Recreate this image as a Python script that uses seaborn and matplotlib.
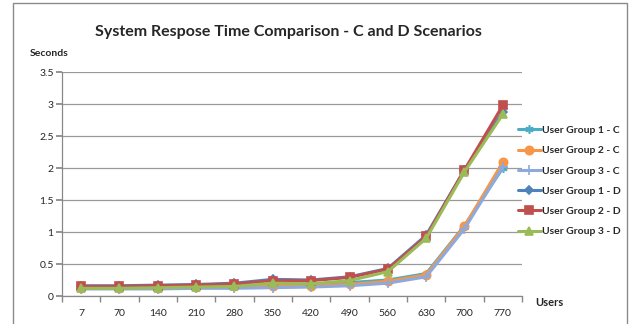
import numpy as np
import pandas as pd
import matplotlib
matplotlib.use("Agg")
import matplotlib.pyplot as plt
from matplotlib.patches import Rectangle
import seaborn as sns

users = ["7", "70", "140", "210", "280", "350", "420", "490", "560", "630", "700", "770"]
group1_c = [0.13, 0.13, 0.14, 0.15, 0.16, 0.18, 0.19, 0.21, 0.25, 0.35, 1.10, 2.00]
group2_c = [0.12, 0.12, 0.13, 0.14, 0.15, 0.15, 0.16, 0.18, 0.23, 0.33, 1.09, 2.09]
group3_c = [0.11, 0.11, 0.11, 0.12, 0.12, 0.13, 0.14, 0.16, 0.20, 0.30, 1.05, 2.02]
group1_d = [0.16, 0.16, 0.17, 0.18, 0.20, 0.26, 0.25, 0.30, 0.43, 0.95, 1.97, 2.88]
group2_d = [0.15, 0.15, 0.16, 0.17, 0.19, 0.24, 0.24, 0.29, 0.42, 0.93, 1.97, 2.98]
group3_d = [0.12, 0.12, 0.13, 0.14, 0.15, 0.20, 0.19, 0.24, 0.38, 0.90, 1.94, 2.84]

series_names = ["User Group 1 - C", "User Group 2 - C", "User Group 3 - C",
                "User Group 1 - D", "User Group 2 - D", "User Group 3 - D"]
series_vals = [group1_c, group2_c, group3_c, group1_d, group2_d, group3_d]
colors = ["#4BACC6", "#F79646", "#8EA9DB", "#4F81BD", "#C0504D", "#9BBB59"]
markers = [(6, 2, 0), "o", "+", "D", "s", "^"]
msizes = [6, 6, 7, 4.5, 6, 6]

rows = []
for name, vals in zip(series_names, series_vals):
    for i, v in enumerate(vals):
        rows.append({"pos": i, "Seconds": v, "series": name})
df = pd.DataFrame(rows)

sns.set_theme(style="white")
plt.rcParams["font.family"] = ["Lato", "DejaVu Sans"]

fig = plt.figure(figsize=(6.32, 3.24), dpi=100)
ax = fig.add_axes([62 / 632, 1 - 296 / 324, 460 / 632, (296 - 72) / 324])

for name, col, mk, ms in zip(series_names, colors, markers, msizes):
    sub = df[df["series"] == name]
    sns.lineplot(data=sub, x="pos", y="Seconds", ax=ax, color=col, marker=mk,
                 markersize=ms, markeredgecolor=col, markeredgewidth=1.2,
                 linewidth=2.2, label=name, sort=False)

ax.set_xlim(-0.5, len(users) - 0.5)
ax.set_ylim(0, 3.5)
ax.set_yticks(np.arange(0, 3.51, 0.5))
ax.set_yticklabels(["0", "0.5", "1", "1.5", "2", "2.5", "3", "3.5"], fontsize=7.5)
ax.set_xticks(range(len(users)))
ax.set_xticklabels(users, fontsize=7.5)
ax.set_xticks(np.arange(-0.5, len(users), 1), minor=True)
ax.tick_params(axis="x", which="major", length=0, pad=9)
ax.tick_params(axis="x", which="minor", length=4, color="#888888", direction="out", bottom=True)
ax.tick_params(axis="y", length=4, color="#888888", direction="out", left=True, pad=2)
ax.grid(axis="y", color="#9a9a9a", linewidth=0.9)
ax.set_axisbelow(True)
for s in ["top", "right"]:
    ax.spines[s].set_visible(False)
for s in ["left", "bottom"]:
    ax.spines[s].set_color("#888888")
    ax.spines[s].set_linewidth(0.9)
ax.set_xlabel("")
ax.set_ylabel("")

handles, labels = ax.get_legend_handles_labels()
ax.get_legend().remove()
fig.legend(handles, labels, loc="center left", bbox_to_anchor=(518 / 632, 1 - 181 / 324),
           frameon=False, handlelength=2.2, handletextpad=0.1, labelspacing=1.05,
           prop={"weight": "bold", "size": 7.5}, borderaxespad=0, borderpad=0)

fig.text(288 / 632, 1 - 32 / 324, "System Respose Time Comparison - C and D Scenarios",
         ha="center", va="center", fontsize=11.5, fontweight="bold")
fig.text(49 / 632, 1 - 53 / 324, "Seconds", ha="center", va="center", fontsize=7.5, fontweight="bold")
fig.text(549 / 632, 1 - 303 / 324, "Users", ha="center", va="center", fontsize=8, fontweight="bold")

fig.patches.append(Rectangle((13 / 632, -0.05), (627 - 13) / 632, 1.05 - 3 / 324,
                             transform=fig.transFigure, fill=False, edgecolor="#8a8a8a",
                             linewidth=1.0))

fig.savefig("out.png", dpi=100)
